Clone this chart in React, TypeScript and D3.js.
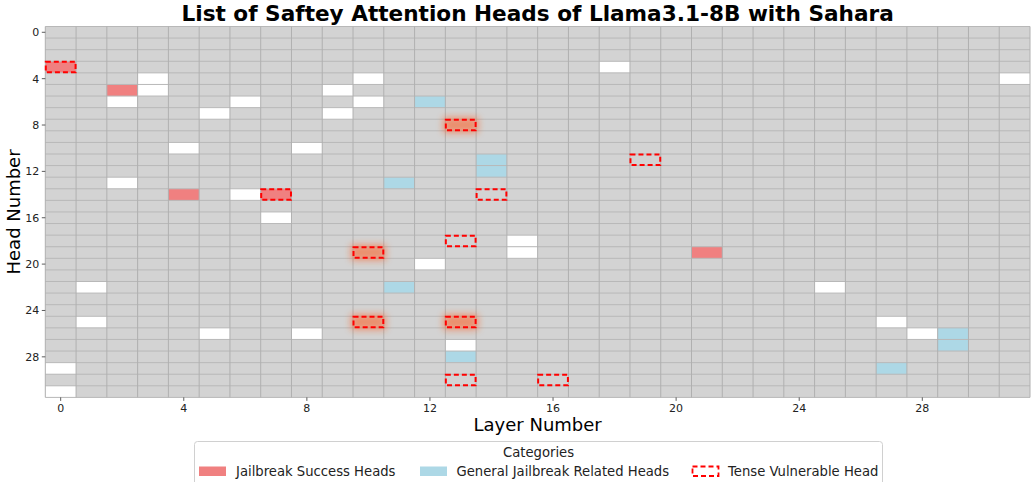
import React from "react";
import * as d3 from "d3";

const layerCount = 32;
const headCount = 32;
const xTickValues = [0, 4, 8, 12, 16, 20, 24, 28];
const yTickValues = [0, 4, 8, 12, 16, 20, 24, 28];

// [layer, head]
const jailbreakSuccessHeads: [number, number][] = [
  [0, 3], [2, 5], [4, 14], [7, 14], [21, 19],
];
const generalJailbreakHeads: [number, number][] = [
  [12, 6], [14, 11], [14, 12], [11, 13], [11, 22], [13, 28], [29, 26], [29, 27], [27, 29],
];
const whiteHeads: [number, number][] = [
  [18, 3], [3, 4], [10, 4], [31, 4], [3, 5], [9, 5], [2, 6], [6, 6], [10, 6],
  [5, 7], [9, 7], [4, 10], [8, 10], [2, 13], [6, 14], [7, 16], [15, 18], [15, 19],
  [12, 20], [1, 22], [25, 22], [1, 25], [27, 25], [5, 26], [8, 26], [28, 26],
  [13, 27], [0, 29], [0, 31],
];
const tenseVulnerableHeads: [number, number][] = [
  [0, 3], [13, 8], [19, 11], [7, 14], [14, 14], [13, 18], [10, 19], [10, 25],
  [13, 25], [13, 30], [16, 30],
];
const glowingHeads: [number, number][] = [
  [13, 8], [10, 19], [10, 25], [13, 25],
];

const legendLabels = ["Jailbreak Success Heads", "General Jailbreak Related Heads", "Tense Vulnerable Head"];

const W = 1032;
const H = 482;
const plotLeft = 45.3;
const plotRight = 1030;
const plotTop = 26.5;
const plotBottom = 397.4;
const FONT = "DejaVu Sans, sans-serif";

export default function App() {
  const x = d3.scaleBand<number>().domain(d3.range(layerCount)).range([plotLeft, plotRight]).padding(0);
  const y = d3.scaleBand<number>().domain(d3.range(headCount)).range([plotTop, plotBottom]).padding(0);
  const bw = x.bandwidth();
  const bh = y.bandwidth();

  const cell = (key: string, [l, h]: [number, number], fill: string) => (
    <rect key={key} x={x(l)} y={y(h)} width={bw} height={bh} fill={fill} />
  );

  return (
    <svg width={W} height={H} style={{ position: "absolute", left: 0, top: 0, background: "#fff" }} fontFamily={FONT}>
      <defs>
        <filter id="glow" x="-60%" y="-150%" width="220%" height="400%">
          <feGaussianBlur stdDeviation="3.8" />
        </filter>
      </defs>
      <rect x={plotLeft} y={plotTop} width={plotRight - plotLeft} height={plotBottom - plotTop} fill="#d3d3d3" />
      {whiteHeads.map((c, i) => cell("w" + i, c, "#ffffff"))}
      {jailbreakSuccessHeads.map((c, i) => cell("r" + i, c, "#f08080"))}
      {generalJailbreakHeads.map((c, i) => cell("b" + i, c, "#add8e6"))}
      {/* grid */}
      {d3.range(headCount + 1).map((i) => {
        const yy = plotTop + i * bh;
        return <line key={"h" + i} x1={plotLeft} x2={plotRight} y1={yy} y2={yy} stroke="#b8b8b8" strokeWidth={1} />;
      })}
      {d3.range(layerCount + 1).map((i) => {
        const xx = plotLeft + i * bw;
        return <line key={"v" + i} x1={xx} x2={xx} y1={plotTop} y2={plotBottom} stroke="#b0b0b0" strokeWidth={1} />;
      })}
      {glowingHeads.map(([l, h], i) => (
        <rect key={"g" + i} x={(x(l) as number) - 2} y={(y(h) as number) - 2} width={bw + 4} height={bh + 4}
          fill="#ff5a1a" opacity={0.55} filter="url(#glow)" />
      ))}
      {tenseVulnerableHeads.map(([l, h], i) => (
        <rect key={"t" + i} x={(x(l) as number) + 0.5} y={(y(h) as number) + 0.5} width={bw - 1} height={bh - 1}
          fill="none" stroke="#ff0000" strokeWidth={2} strokeDasharray="5,3" />
      ))}
      {/* x axis */}
      {xTickValues.map((t) => {
        const xx = (x(t) as number) + bw / 2;
        return (
          <g key={"xt" + t}>
            <line x1={xx} x2={xx} y1={plotBottom} y2={plotBottom + 3.5} stroke="#333" strokeWidth={0.8} />
            <text x={xx} y={plotBottom + 15} fontSize={11} textAnchor="middle" fill="#222">{t}</text>
          </g>
        );
      })}
      {yTickValues.map((t) => {
        const yy = (y(t) as number) + bh / 2;
        return (
          <g key={"yt" + t}>
            <line x1={plotLeft - 3.5} x2={plotLeft} y1={yy} y2={yy} stroke="#333" strokeWidth={0.8} />
            <text x={plotLeft - 6} y={yy + 4} fontSize={11} textAnchor="end" fill="#222">{t}</text>
          </g>
        );
      })}
      <text x={(plotLeft + plotRight) / 2} y={431} fontSize={18} textAnchor="middle" fill="#000">Layer Number</text>
      <text transform={`translate(20,${(plotTop + plotBottom) / 2}) rotate(-90)`} fontSize={18} textAnchor="middle" fill="#000">Head Number</text>
      <text x={(plotLeft + plotRight) / 2} y={21} fontSize={21.6} fontWeight="bold" textAnchor="middle" fill="#000">
        List of Saftey Attention Heads of Llama3.1-8B with Sahara
      </text>
      {/* legend */}
      <rect x={194.5} y={441.5} width={688} height={60} rx={3} fill="#fff" stroke="#d0d0d0" strokeWidth={1} />
      <text x={538.5} y={457} fontSize={13.2} textAnchor="middle" fill="#222">Categories</text>
      <rect x={199} y={466.5} width={27} height={9.5} fill="#f08080" />
      <text x={236} y={476} fontSize={13.2} fill="#222">{legendLabels[0]}</text>
      <rect x={420} y={466.5} width={27} height={9.5} fill="#add8e6" />
      <text x={456.5} y={476} fontSize={13.2} fill="#222">{legendLabels[1]}</text>
      <rect x={692.5} y={466.5} width={26} height={9.5} fill="none" stroke="#ff0000" strokeWidth={1.8} strokeDasharray="5,3" />
      <text x={728} y={476} fontSize={13.2} fill="#222">{legendLabels[2]}</text>
    </svg>
  );
}
